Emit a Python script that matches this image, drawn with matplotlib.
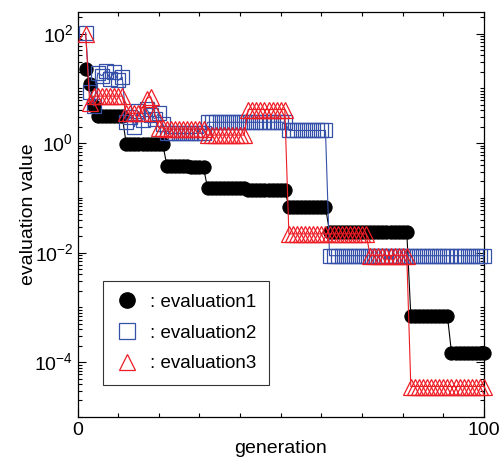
import matplotlib
matplotlib.use("Agg")
import matplotlib.pyplot as plt
from matplotlib.lines import Line2D
from matplotlib.ticker import LogLocator, FixedLocator, NullFormatter, FuncFormatter
import numpy as np

plt.rcParams['font.family'] = ['Liberation Sans', 'DejaVu Sans']
plt.rcParams['mathtext.fontset'] = 'custom'
plt.rcParams['mathtext.rm'] = 'Liberation Sans'

generation = list(range(2, 101))

evaluation1 = [
    23, 12, 4.7,
    3.1, 3.1, 3.1, 3.1, 3.1, 3.1, 3.1,
    0.95, 0.95, 0.95, 0.95, 0.95, 0.95, 0.95, 0.95, 0.95, 0.95,
    0.38, 0.38, 0.38, 0.38, 0.38, 0.38,
    0.36, 0.36, 0.36, 0.36,
    0.15, 0.15, 0.15, 0.15, 0.15, 0.15, 0.15, 0.15, 0.15, 0.15,
    0.14, 0.14, 0.14, 0.14, 0.14, 0.14, 0.14, 0.14, 0.14, 0.14,
    0.068, 0.068, 0.068, 0.068, 0.068, 0.068, 0.068, 0.068, 0.068, 0.068,
    0.024, 0.024, 0.024, 0.024, 0.024, 0.024, 0.024, 0.024, 0.024, 0.024,
    0.024, 0.024, 0.024, 0.024, 0.024, 0.024, 0.024, 0.024, 0.024, 0.024,
    7e-4, 7e-4, 7e-4, 7e-4, 7e-4, 7e-4, 7e-4, 7e-4, 7e-4, 7e-4,
    1.5e-4, 1.5e-4, 1.5e-4, 1.5e-4, 1.5e-4, 1.5e-4, 1.5e-4, 1.5e-4, 1.5e-4,
]

evaluation2 = [
    104, 8.4, 4.7,
    19, 17, 21, 15, 20, 14, 16,
    2.4, 3.0, 2.0, 3.8, 2.6, 4.2, 3.2, 2.8, 3.5, 2.2,
    1.5, 1.5, 1.5, 1.5, 1.5, 1.5, 1.5, 1.5, 1.5, 1.5,
    2.4, 2.4, 2.4, 2.4, 2.4, 2.4, 2.4, 2.4, 2.4, 2.4,
    2.4, 2.4, 2.4, 2.4, 2.4, 2.4, 2.4, 2.4, 2.4, 2.4,
    1.7, 1.7, 1.7, 1.7, 1.7, 1.7, 1.7, 1.7, 1.7, 1.7,
    0.0088, 0.0088, 0.0088, 0.0088, 0.0088, 0.0088, 0.0088, 0.0088, 0.0088, 0.0088,
    0.0088, 0.0088, 0.0088, 0.0088, 0.0088, 0.0088, 0.0088, 0.0088, 0.0088, 0.0088,
    0.0088, 0.0088, 0.0088, 0.0088, 0.0088, 0.0088, 0.0088, 0.0088, 0.0088, 0.0088,
    0.0088, 0.0088, 0.0088, 0.0088, 0.0088, 0.0088, 0.0088, 0.0088, 0.0088,
]

evaluation3 = [
    100, 5.3,
    7.2, 7.2, 7.2, 7.2, 7.2, 7.2, 7.2, 7.2,
    3.5, 3.5, 3.5, 3.5, 3.5, 6.5, 7.0, 3.5, 1.9, 1.9,
    1.8, 1.8, 1.8, 1.8, 1.8, 1.8, 1.8, 1.8, 1.8, 1.8,
    1.4, 1.4, 1.4, 1.4, 1.4, 1.4, 1.4, 1.4, 1.4, 1.4,
    4.1, 4.1, 4.1, 4.1, 4.1, 4.1, 4.1, 4.1, 4.1, 4.1,
    0.022, 0.022, 0.022, 0.022, 0.022, 0.022, 0.022, 0.022, 0.022, 0.022,
    0.022, 0.022, 0.022, 0.022, 0.022, 0.022, 0.022, 0.022, 0.022, 0.022,
    0.0088, 0.0088, 0.0088, 0.0088, 0.0088, 0.0088, 0.0088, 0.0088, 0.0088, 0.0088,
    3.6e-5, 3.6e-5, 3.6e-5, 3.6e-5, 3.6e-5, 3.6e-5, 3.6e-5, 3.6e-5, 3.6e-5, 3.6e-5,
    3.6e-5, 3.6e-5, 3.6e-5, 3.6e-5, 3.6e-5, 3.6e-5, 3.6e-5, 3.6e-5, 3.6e-5,
]

labels = [': evaluation1', ': evaluation2', ': evaluation3']
BLUE = '#3450A8'
RED = '#EE1C25'

fig = plt.figure(figsize=(5.0, 4.61), dpi=100)
ax = fig.add_axes([0.155, 0.0955, 0.813, 0.879])

ax.plot(generation, evaluation1, '-', color='black', lw=0.8,
        marker='o', ms=9.5, mfc='black', mec='black', mew=0.8, clip_on=False, zorder=3)
ax.plot(generation, evaluation2, '-', color=BLUE, lw=0.8,
        marker='s', ms=10.5, mfc='none', mec=BLUE, mew=0.9, clip_on=False, zorder=4)
ax.plot(generation, evaluation3, '-', color=RED, lw=0.8,
        marker='^', ms=11, mfc='none', mec=RED, mew=0.9, clip_on=False, zorder=5)

ax.set_yscale('log')
ax.set_xlim(0, 100)
ax.set_ylim(1e-5, 250)

ax.xaxis.set_major_locator(FixedLocator([0, 100]))
ax.xaxis.set_minor_locator(FixedLocator([10, 20, 30, 40, 50, 60, 70, 80, 90]))
ax.yaxis.set_major_locator(FixedLocator([1e-4, 1e-2, 1e0, 1e2]))
ax.yaxis.set_minor_locator(LogLocator(base=10, subs=np.arange(1, 10), numticks=30))
ax.yaxis.set_minor_formatter(NullFormatter())
ax.yaxis.set_major_formatter(FuncFormatter(lambda v, p: r'$10^{%d}$' % int(round(np.log10(v)))))

ax.tick_params(which='both', direction='in', top=True, right=True, labelsize=14, width=0.8)
ax.tick_params(axis='y', pad=3)
ax.tick_params(which='major', length=6)
ax.tick_params(which='minor', length=3)
for s in ax.spines.values():
    s.set_linewidth(0.9)

ax.set_xlabel('generation', fontsize=14, labelpad=1)
ax.set_ylabel('evaluation value', fontsize=14)
ax.yaxis.set_label_coords(-0.1, 0.5)

handles = [
    Line2D([], [], ls='none', marker='o', ms=11, mfc='black', mec='black'),
    Line2D([], [], ls='none', marker='s', ms=11, mfc='none', mec=BLUE, mew=0.9),
    Line2D([], [], ls='none', marker='^', ms=12, mfc='none', mec=RED, mew=0.9),
]
leg = ax.legend(handles, labels, loc='lower left', bbox_to_anchor=(0.063, 0.078),
                borderaxespad=0.0,
                fontsize=13.5, frameon=True, fancybox=False, edgecolor='black',
                handlelength=1.2, handletextpad=0.6, borderpad=0.7, labelspacing=0.72)
leg.get_frame().set_linewidth(0.8)

fig.savefig('out.png', dpi=100)
